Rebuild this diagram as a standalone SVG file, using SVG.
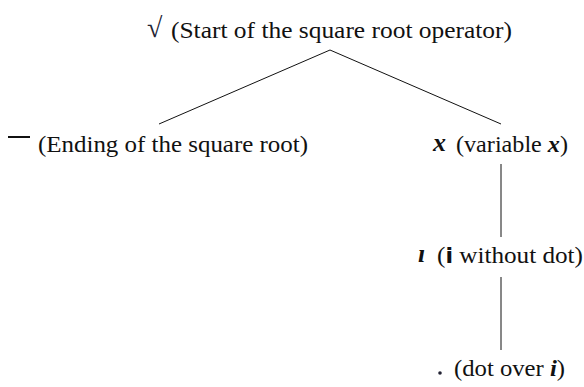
<svg xmlns="http://www.w3.org/2000/svg" width="584" height="387" viewBox="0 0 584 387">
  <style>
    .lbl { font-family: "Liberation Serif", "DejaVu Serif", serif; font-size: 24px; fill: #111; }
    .sym { font-family: "Liberation Serif", "DejaVu Serif", serif; font-weight: bold; font-style: italic; fill: #111; }
    .edge { stroke: #111; stroke-width: 1; fill: none; }
  </style>
  <rect width="584" height="387" fill="#fff"/>
  <g id="connectors">
    <line class="edge" x1="330" y1="50" x2="159" y2="124"/>
    <line class="edge" x1="330" y1="50" x2="501" y2="124"/>
    <line class="edge" x1="501" y1="164" x2="501" y2="237"/>
    <line class="edge" x1="501" y1="277" x2="501" y2="350"/>
  </g>
  <g id="node-sqrt">
    <text x="147" y="37" font-family="Liberation Serif, serif" font-size="28" fill="#223">√</text>
    <text class="lbl" x="171" y="38" textLength="341" lengthAdjust="spacingAndGlyphs">(Start of the square root operator)</text>
  </g>
  <g id="node-bar">
    <rect x="8" y="136" width="22" height="2" fill="#111"/>
    <text class="lbl" x="38" y="152" textLength="270" lengthAdjust="spacingAndGlyphs">(Ending of the square root)</text>
  </g>
  <g id="node-x">
    <text class="sym" x="433" y="151" font-size="26">x</text>
    <text class="lbl" x="456" y="152" textLength="112" lengthAdjust="spacingAndGlyphs">(variable <tspan class="sym">x</tspan>)</text>
  </g>
  <g id="node-dotless">
    <text class="sym" x="418" y="262" font-size="26" fill="#1a2a55">ı</text>
    <text class="lbl" x="437" y="263" textLength="146" lengthAdjust="spacingAndGlyphs">(<tspan font-family="DejaVu Sans, sans-serif" font-weight="bold" font-size="21">i</tspan> without dot)</text>
  </g>
  <g id="node-dot">
    <circle cx="440" cy="373" r="1.8" fill="#223"/>
    <text class="lbl" x="454" y="376" textLength="111" lengthAdjust="spacingAndGlyphs">(dot over <tspan class="sym">i</tspan>)</text>
  </g>
</svg>
